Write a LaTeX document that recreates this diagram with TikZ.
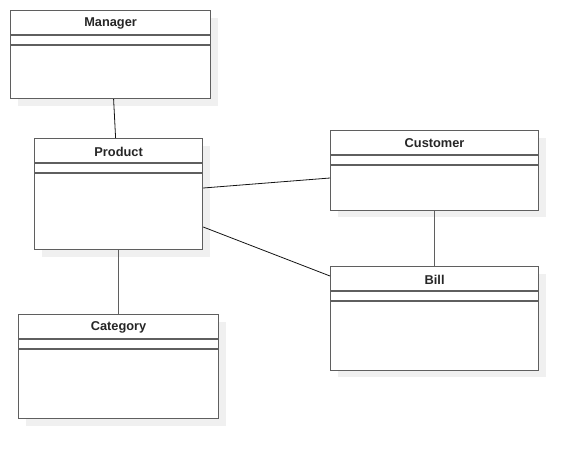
\documentclass[tikz,border=0pt]{standalone}
\usepackage{fontspec}
\setmainfont{Liberation Sans}
\usetikzlibrary{calc,shadows}
\definecolor{boxc}{RGB}{95,95,95}
\definecolor{shadc}{RGB}{240,240,240}
\definecolor{linkc}{RGB}{20,20,20}
\tikzset{
  classbox/.style={draw=boxc, line width=1.2pt, fill=white, inner sep=0pt,
    drop shadow={shadow xshift=7pt, shadow yshift=-7pt, fill=shadc, opacity=1}},
  classname/.style={font=\fontsize{12.8}{14}\selectfont\bfseries, text=black!85, inner sep=0pt},
  compline/.style={draw=boxc, line width=1.2pt},
  assoc/.style={draw=linkc, line width=0.8pt}
}
% name, x, y, width, height, title, title offset
\newcommand{\umlclass}[7]{%
  \node[classbox, minimum width=#4pt, minimum height=#5pt, anchor=north west] (#1) at (#2,#3) {};
  \node[classname] (#1-name) at ($(#1.north)+(0,#7)$) {#6};
  \draw[compline] ($(#1.north west)+(0,25)$) -- ($(#1.north east)+(0,25)$);
  \draw[compline] ($(#1.north west)+(0,35)$) -- ($(#1.north east)+(0,35)$);
}
\begin{document}
\begin{tikzpicture}[x=1pt, y=-1pt]
  \useasboundingbox (0,0) rectangle (578,458);
  % classes
  \umlclass{manager}{10}{10}{200}{88}{Manager}{13.5}
  \umlclass{product}{34}{138}{168}{111}{Product}{13.5}
  \umlclass{customer}{330}{130}{208}{79.5}{Customer}{13.5}
  \umlclass{bill}{330}{266}{208}{103.5}{Bill}{13.5}
  \umlclass{category}{18}{314}{200}{104}{Category}{13.5}
  % associations
  \draw[assoc] ($(manager.south)+(3,0)$) -- ($(product.north)+(-3,0)$);
  \draw[assoc] ($(product.north east)+(0,50)$) -- ($(customer.north west)+(0,48)$);
  \draw[assoc] ($(product.north east)+(0,89)$) -- ($(bill.north west)+(0,10)$);
  \draw[assoc, draw=boxc, line width=1.2pt] (customer.south) -- (bill.north);
  \draw[assoc, draw=boxc, line width=1.2pt] (product.south) -- (category.north);
\end{tikzpicture}
\end{document}
